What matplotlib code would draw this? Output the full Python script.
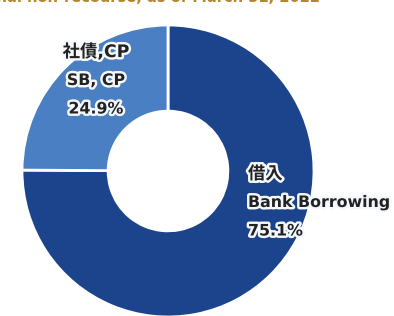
import matplotlib

matplotlib.use('Agg')
import matplotlib.pyplot as plt
import matplotlib.patheffects as pe

plt.rcParams['font.family'] = ['DejaVu Sans', 'Noto Sans CJK JP']

# data
labels_jp = ['借入', '社債,CP']
labels_en = ['Bank Borrowing', 'SB, CP']
shares = [75.1, 24.9]
colors = ['#1c448c', '#4b7fc3']
title = 'Additional non-recourse, as of March 31, 2022'

W, H = 394, 316
fig = plt.figure(figsize=(W / 100, H / 100), dpi=100)
ax = fig.add_axes([0, 0, 1, 1])

cx, cy, r = 168, H - 171, 146
ax.pie(shares, colors=colors, startangle=90, counterclock=False,
       center=(cx, cy), radius=r, frame=True,
       wedgeprops=dict(width=r * 0.59, edgecolor='white', linewidth=2))
ax.set_xlim(0, W)
ax.set_ylim(0, H)
ax.set_aspect('equal')
ax.axis('off')

glow = [pe.withStroke(linewidth=3.5, foreground='#f4f7fc')]
sizes = [12.5, 11.4, 11.4]  # jp line, en line, percent

# bank borrowing label (left aligned)
lines = [labels_jp[0], labels_en[0], '%.1f%%' % shares[0]]
for i, s in enumerate(lines):
    ax.text(248, H - 174 - i * 28.5, s, fontsize=sizes[i], fontweight='bold',
            color='#222222', ha='left', va='center', path_effects=glow)

# bonds / CP label (centered)
lines = [labels_jp[1], labels_en[1], '%.1f%%' % shares[1]]
for i, s in enumerate(lines):
    ax.text(96, H - 52 - i * 28.5, s, fontsize=sizes[i], fontweight='bold',
            color='#222222', ha='center', va='center', path_effects=glow)

# cut-off title at the top
ax.text(320, H - 2, title, fontsize=10.5, fontweight='bold', color='#b5862e',
        ha='right', va='baseline', clip_on=False)

fig.savefig('out.png', dpi=100)
